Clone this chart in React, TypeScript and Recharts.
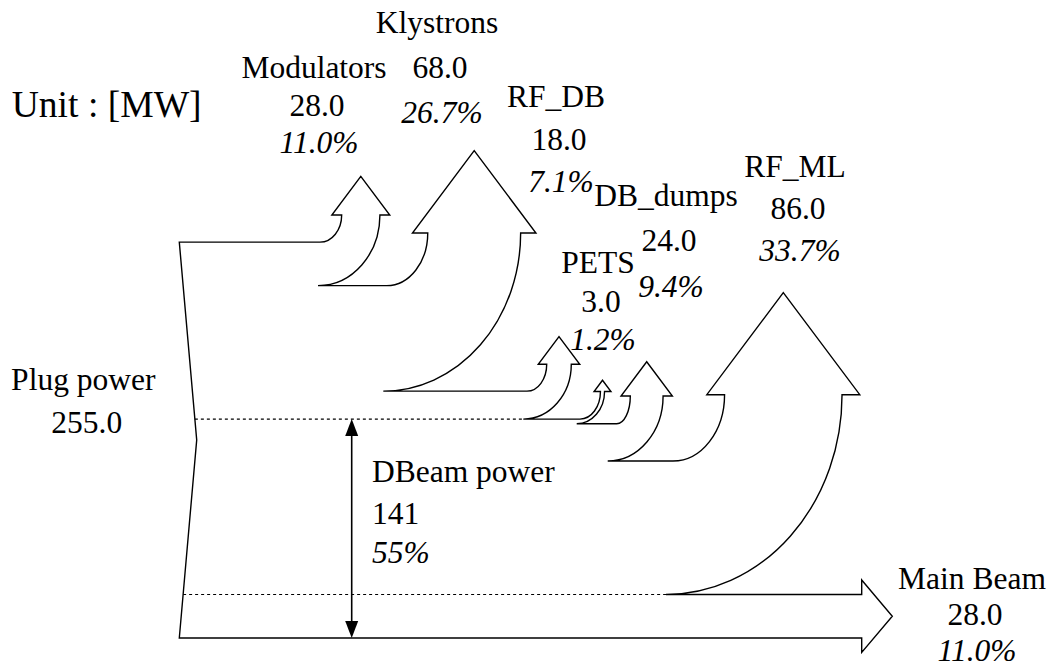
import * as Recharts from 'recharts';

const { ComposedChart, XAxis, YAxis, Customized } = Recharts as any;
const RC: any = Recharts;

// power flows leaving the plug, top to bottom [MW]
const flowNames = ['Modulators', 'Klystrons', 'RF_DB', 'PETS', 'DB_dumps', 'RF_ML', 'Main Beam'];
const flowValues = [28.0, 68.0, 18.0, 3.0, 24.0, 86.0, 28.0];
const flowPercents = ['11.0%', '26.7%', '7.1%', '1.2%', '9.4%', '33.7%', '11.0%'];
const plugPower = 255.0;
const dbeamPower = 141;
const dbeamPercent = '55%';

// layout (px on the layout axes)
const arrowX = [360.8, 474.2, 559, 602.5, 646.7, 783.3];
const headBaseY = [215, 233, 364.3, 391.5, 396, 394.7];
const bendStartX = [320, 386.7, 527, 580, 616.7, 673];
const bendEndX = [318, 383.3, 523.3, 576.7, 607.7, 666];
const labelX = [314, 437, 556, 598, 666, 795, 972];
const labelY = [78, 33.3, 107.3, 273.3, 206, 177.3, 589];
const labelGap = [37.5, 44.7, 42.2, 38.4, 45.3, 41.9, 36];

const X_DOMAIN = [0, 1050];
const MW_DOMAIN = [-156, 275];
const PX_DOMAIN = [0, 669];
const W = 1050;
const H = 669;
const FONT = "'Liberation Serif', 'Times New Roman', serif";

// wrap whatever the axis scale hook gives into a plain number function
const toFn = (s: any, fallback: (v: number) => number) => (v: number) => {
  let r: any;
  if (typeof s === 'function') r = s(v);
  else if (s && typeof s.map === 'function') r = s.map(v);
  return typeof r === 'number' && isFinite(r) ? r : fallback(v);
};

function useScales() {
  const sx = RC.useXAxisScale ? RC.useXAxisScale() : undefined;
  const smw = RC.useYAxisScale ? RC.useYAxisScale('mw') : undefined;
  const spx = RC.useYAxisScale ? RC.useYAxisScale('px') : undefined;
  const lin = (d: number[], a: number, b: number) => (v: number) => a + ((v - d[0]) / (d[1] - d[0])) * (b - a);
  return {
    x: toFn(sx, lin(X_DOMAIN, 0, W)),
    mw: toFn(smw, lin(MW_DOMAIN, 0, H)),
    py: toFn(spx, lin(PX_DOMAIN, 0, H)),
  };
}

function Diagram() {
  const { x, mw, py } = useScales();
  const outTop = x(179.3);
  const notchX = x(196.7);
  const yTop0 = mw(0);
  const yBot0 = mw(plugPower);
  const yMid = mw(plugPower / 2);
  const edgeX = (yy: number) =>
    yy < yMid
      ? outTop + ((notchX - outTop) * (yy - yTop0)) / (yMid - yTop0)
      : notchX + ((outTop - notchX) * (yy - yMid)) / (yBot0 - yMid);

  // one outline: left edge, every upward arrow in turn, main beam arrow, back along the bottom
  let cum = 0;
  let d = `M ${outTop} ${yTop0}`;
  for (let i = 0; i < 6; i++) {
    const yT = mw(cum);
    const yB = mw(cum + flowValues[i]);
    const w = (yB - yT) * 0.88;
    const xc = x(arrowX[i]);
    const xL = xc - w / 2;
    const xR = xc + w / 2;
    const hb = py(headBaseY[i]);
    const over = 6 + 0.1 * w;
    const tip = 0.667 * (w + 2 * over);
    const s = x(bendStartX[i]);
    const e = x(bendEndX[i]);
    d += ` H ${s} A ${xL - s} ${yT - hb} 0 0 0 ${xL} ${hb} H ${xL - over} L ${xc} ${hb - tip} L ${xR + over} ${hb} H ${xR} A ${xR - e} ${yB - hb} 0 0 1 ${e} ${yB}`;
    cum += flowValues[i];
  }
  const mT = mw(cum);
  const mB = mw(cum + flowValues[6]);
  const hx = x(861.7);
  d += ` H ${hx} V ${mT - 14.5} L ${hx + 30.6} ${(mT + mB) / 2} L ${hx} ${mB + 14.5} V ${mB} H ${outTop} L ${notchX} ${yMid} Z`;

  const dbTop = mw(plugPower - dbeamPower);
  const mainTop = mw(plugPower - flowValues[6]);
  const ax = x(351.7);

  const lines = (i: number) => [flowNames[i], flowValues[i].toFixed(1), flowPercents[i]];

  return (
    <g>
      <path d={d} fill="none" stroke="#000" strokeWidth={1.4} />
      <line x1={edgeX(dbTop)} y1={dbTop} x2={x(bendEndX[2])} y2={dbTop} stroke="#000" strokeWidth={1.2} strokeDasharray="3 3" />
      <line x1={edgeX(mainTop)} y1={mainTop} x2={x(bendEndX[5])} y2={mainTop} stroke="#000" strokeWidth={1.2} strokeDasharray="3 3" />
      <line x1={ax} y1={dbTop + 12} x2={ax} y2={yBot0 - 12} stroke="#000" strokeWidth={1.6} />
      <polygon points={`${ax},${dbTop} ${ax - 6.5},${dbTop + 17} ${ax + 6.5},${dbTop + 17}`} fill="#000" />
      <polygon points={`${ax},${yBot0} ${ax - 6.5},${yBot0 - 17} ${ax + 6.5},${yBot0 - 17}`} fill="#000" />
      <g fontFamily={FONT} fontSize={31.5} fill="#000">
        {flowNames.map((_, i) =>
          lines(i).map((t, j) => (
            <text
              key={`${i}-${j}`}
              x={x(labelX[i] + [0, 3, 5][j])}
              y={py(labelY[i] + labelGap[i] * j)}
              textAnchor="middle"
              fontStyle={j === 2 ? 'italic' : 'normal'}
            >
              {t}
            </text>
          ))
        )}
        <text x={x(83.3)} y={py(390)} textAnchor="middle">Plug power</text>
        <text x={x(86.7)} y={py(433.3)} textAnchor="middle">{plugPower.toFixed(1)}</text>
        <text x={x(372)} y={py(481.7)}>DBeam power</text>
        <text x={x(372)} y={py(524)}>{dbeamPower}</text>
        <text x={x(372)} y={py(562.7)} fontStyle="italic">{dbeamPercent}</text>
        <text x={x(11.7)} y={py(116.7)} fontSize={37.6}>Unit : [MW]</text>
      </g>
    </g>
  );
}

export default function App() {
  return (
    <div style={{ position: 'absolute', left: 0, top: 0, width: W, height: H, background: '#fff' }}>
      <ComposedChart width={W} height={H} margin={{ top: 0, right: 0, bottom: 0, left: 0 }} data={[{ x: 0 }]}>
        <XAxis type="number" dataKey="x" domain={X_DOMAIN} hide />
        <YAxis yAxisId="mw" type="number" domain={MW_DOMAIN} reversed hide />
        <YAxis yAxisId="px" type="number" domain={PX_DOMAIN} reversed hide />
        <Customized component={<Diagram />} />
      </ComposedChart>
    </div>
  );
}
